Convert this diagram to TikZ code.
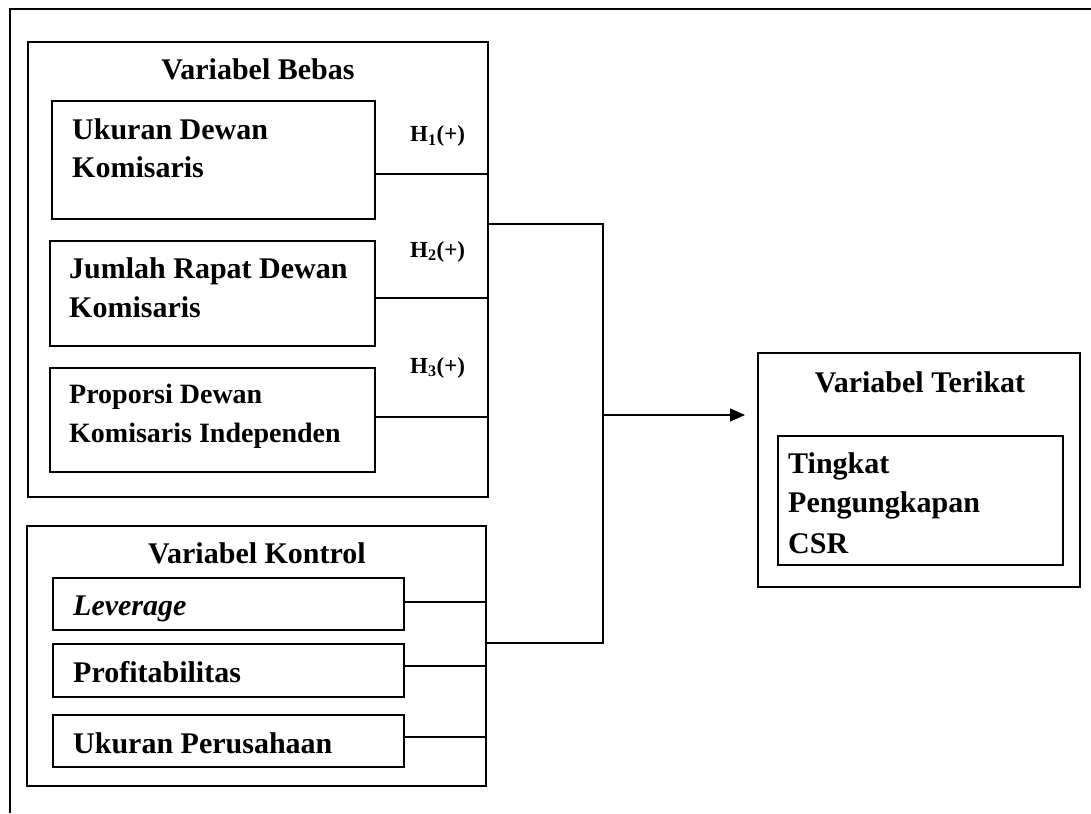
\documentclass[tikz,border=0pt]{standalone}
\usepackage{fontspec}
\setmainfont{Liberation Serif}
\usetikzlibrary{arrows.meta}
\begin{document}
\begin{tikzpicture}[x=1pt,y=-1pt,
  box/.style={draw,line width=1.4pt,inner sep=0pt,outer sep=0pt,anchor=north west},
  lbl/.style={anchor=base west,inner sep=0pt,font=\bfseries\fontsize{30}{36}\selectfont},
  lblsmall/.style={anchor=base west,inner sep=0pt,font=\bfseries\fontsize{28}{34}\selectfont},
  ttl/.style={anchor=base,inner sep=0pt,font=\bfseries\fontsize{30}{36}\selectfont},
  hyp/.style={anchor=base west,inner sep=0pt,font=\bfseries\fontsize{23}{28}\selectfont},
  conn/.style={line width=1.3pt},
  arr/.style={line width=1.3pt,-{Triangle[length=15pt,width=13pt]}}]
\useasboundingbox (0,0) rectangle (1091,813);
% outer frame (cropped)
\coordinate (frTR) at (1091,9);
\coordinate (frTL) at (10,9);
\coordinate (frBL) at (10,813);
\draw[line width=1.4pt] (frTR) -- (frTL) -- (frBL);

% Variabel Bebas
\node[box,minimum width=460pt,minimum height=455pt] (bebas) at (28,42) {};
\node[ttl] (tbebas) at (258,80) {Variabel Bebas};
\node[box,minimum width=323pt,minimum height=118pt] (b1) at (52,101) {};
\node[lbl] (b1a) at (72,140) {Ukuran Dewan};
\node[lbl] (b1b) at (72,178) {Komisaris};
\node[box,minimum width=325pt,minimum height=105pt] (b2) at (50,241) {};
\node[lbl] (b2a) at (69,278) {Jumlah Rapat Dewan};
\node[lbl] (b2b) at (69,317) {Komisaris};
\node[box,minimum width=325pt,minimum height=104pt] (b3) at (50,368) {};
\node[lblsmall] (b3a) at (69,403) {Proporsi Dewan};
\node[lblsmall] (b3b) at (69,442) {Komisaris Independen};
\node[hyp] (h1) at (410,142) {H\textsubscript{1}(+)};
\node[hyp] (h2) at (410,257) {H\textsubscript{2}(+)};
\node[hyp] (h3) at (410,373) {H\textsubscript{3}(+)};
\coordinate (j1) at (488,174);
\coordinate (j2) at (488,298);
\coordinate (j3) at (488,417);
\draw[conn] (j1 -| b1.east) -- (j1);
\draw[conn] (j2 -| b2.east) -- (j2);
\draw[conn] (j3 -| b3.east) -- (j3);

% Variabel Kontrol
\node[box,minimum width=459pt,minimum height=260pt] (kontrol) at (27,526) {};
\node[ttl] (tkontrol) at (257,563) {Variabel Kontrol};
\node[box,minimum width=351pt,minimum height=52pt] (k1) at (53,578) {};
\node[lbl] (k1t) at (73,615) {\itshape Leverage};
\node[box,minimum width=351pt,minimum height=53pt] (k2) at (53,644) {};
\node[lbl] (k2t) at (73,682) {Profitabilitas};
\node[box,minimum width=351pt,minimum height=52pt] (k3) at (53,715) {};
\node[lbl] (k3t) at (73,753) {Ukuran Perusahaan};
\coordinate (jk1) at (486,602);
\coordinate (jk2) at (486,666);
\coordinate (jk3) at (486,737);
\draw[conn] (jk1 -| k1.east) -- (jk1);
\draw[conn] (jk2 -| k2.east) -- (jk2);
\draw[conn] (jk3 -| k3.east) -- (jk3);

% Variabel Terikat
\node[box,minimum width=322pt,minimum height=234pt] (terikat) at (758,353) {};
\node[ttl] (tterikat) at (920,392) {Variabel Terikat};
\node[box,minimum width=285pt,minimum height=129pt] (csr) at (778,436) {};
\node[lbl] (csra) at (788,473) {Tingkat};
\node[lbl] (csrb) at (788,512) {Pengungkapan};
\node[lbl] (csrc) at (788,553) {CSR};

% bracket and arrow
\coordinate (bt) at (603,224);
\coordinate (bb) at (603,643);
\coordinate (bm) at (603,415);
\coordinate (tip) at (745,415);
\draw[conn] (bt -| bebas.east) -- (bt) -- (bb) -- (bb -| kontrol.east);
\draw[arr] (bm) -- (tip);
\end{tikzpicture}
\end{document}
